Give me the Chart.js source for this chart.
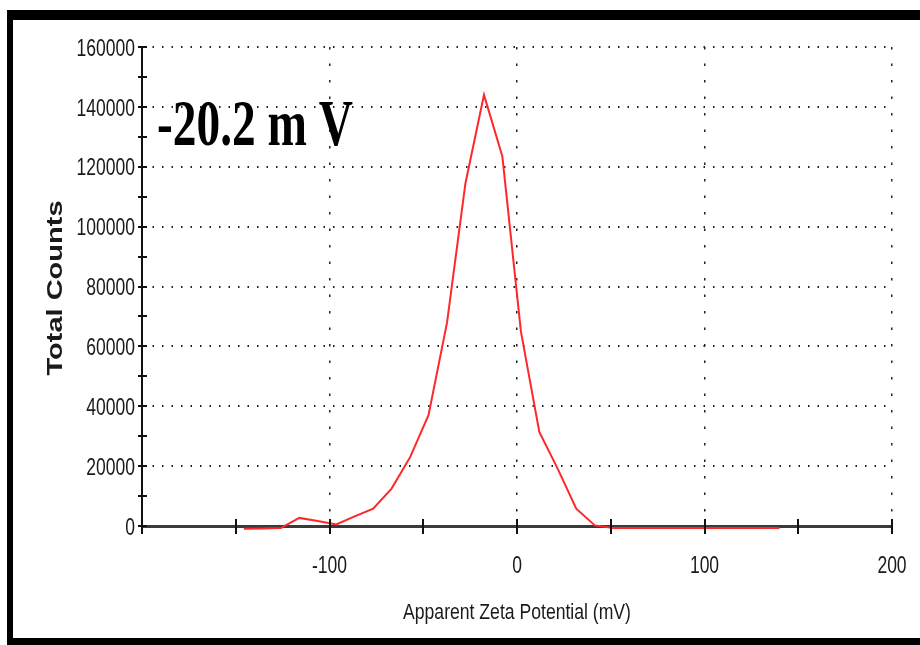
<!DOCTYPE html>
<html>
<head>
<meta charset="utf-8">
<script src="https://cdn.jsdelivr.net/npm/chart.js@4.4.1/dist/chart.umd.min.js"></script>
<style>
  html, body { margin: 0; padding: 0; background: #fff; }
  #wrap { width: 920px; height: 645px; position: relative; }
</style>
</head>
<body>
<div id="wrap"><canvas id="zetaChart" width="920" height="645"></canvas></div>
<script>
// Zeta potential distribution
const zetaMv = [-145.7, -135.8, -126.0, -116.1, -106.3, -96.4, -86.6, -76.7, -66.9, -57.0,
                -47.2, -37.3, -27.5, -17.6, -7.8, 2.1, 11.9, 21.8, 31.6, 41.5,
                51.3, 61.2, 71.0, 80.9, 90.7, 100.6, 110.4, 120.3, 130.1, 140.0];
const totalCounts = [-900, -800, -700, 2700, 1700, 500, 3200, 5800, 12500, 23000,
                     37000, 68000, 114500, 144000, 123400, 64900, 31400, 19000, 5800, 200,
                     -700, -700, -700, -700, -700, -700, -700, -700, -700, -700];
const xTickMarks = [-200, -150, -100, -50, 0, 50, 100, 150, 200];
const yTickMarks = [0, 10000, 20000, 30000, 40000, 50000, 60000, 70000, 80000,
                    90000, 100000, 110000, 120000, 130000, 140000, 150000, 160000];
const xTickLabels = [-100, 0, 100, 200];
const yTickLabels = [0, 20000, 40000, 60000, 80000, 100000, 120000, 140000, 160000];
const peakLabel = '-20.2 m V';
const xTitle = 'Apparent Zeta Potential (mV)';
const yTitle = 'Total Counts';

const sansFont = "'Liberation Sans', Arial, sans-serif";

// draws text squeezed sideways (the source picture is narrowed)
function squeezedText(ctx, text, x, y, sx, align, baseline) {
    ctx.save();
    ctx.translate(x, y);
    ctx.scale(sx, 1);
    ctx.textAlign = align;
    ctx.textBaseline = baseline;
    ctx.fillText(text, 0, 0);
    ctx.restore();
}

// tick marks crossing the axes, labels, titles and black frame
const extrasPlugin = {
    id: 'extras',
    afterDraw(chart) {
        const ctx = chart.ctx;
        const xs = chart.scales.x, ys = chart.scales.y;
        const y0 = ys.getPixelForValue(0);
        const xLeft = xs.getPixelForValue(-200);
        ctx.save();
        ctx.strokeStyle = '#111';
        ctx.lineWidth = 2;
        xTickMarks.forEach(v => {
            const px = Math.round(xs.getPixelForValue(v));
            ctx.beginPath();
            ctx.moveTo(px, y0 - 7);
            ctx.lineTo(px, y0 + 8);
            ctx.stroke();
        });
        yTickMarks.forEach(v => {
            const py = Math.round(ys.getPixelForValue(v));
            ctx.beginPath();
            ctx.moveTo(xLeft - 4, py);
            ctx.lineTo(xLeft + 5, py);
            ctx.stroke();
        });

        // tick labels
        ctx.fillStyle = '#1a1a1a';
        ctx.font = '24px ' + sansFont;
        yTickLabels.forEach(v => {
            squeezedText(ctx, String(v), xLeft - 7, ys.getPixelForValue(v) + 2, 0.73, 'right', 'middle');
        });
        xTickLabels.forEach(v => {
            squeezedText(ctx, String(v), xs.getPixelForValue(v), y0 + 40, 0.73, 'center', 'middle');
        });
        // x title
        ctx.font = '22px ' + sansFont;
        squeezedText(ctx, xTitle, (xs.left + xs.right) / 2, 613, 0.8, 'center', 'middle');

        // y title, squeezed sideways like the source
        ctx.save();
        ctx.translate(56, 288);
        ctx.rotate(-Math.PI / 2);
        ctx.scale(1, 0.75);
        ctx.font = "bold 29px " + sansFont;
        ctx.textAlign = 'center';
        ctx.textBaseline = 'middle';
        ctx.fillText(yTitle, 0, 0);
        ctx.restore();
        ctx.restore();

        // big value label
        ctx.save();
        ctx.fillStyle = '#000';
        ctx.font = "bold 66px 'Liberation Serif', 'Times New Roman', serif";
        const w = ctx.measureText(peakLabel).width;
        ctx.translate(157, 145);
        ctx.scale(196 / w, 1);
        ctx.textBaseline = 'alphabetic';
        ctx.fillText(peakLabel, 0, 0);
        ctx.restore();

        // frame
        ctx.save();
        ctx.fillStyle = '#000';
        ctx.fillRect(7, 10, 913, 10);
        ctx.fillRect(7, 10, 6, 635);
        ctx.fillRect(7, 638, 913, 7);
        ctx.restore();
    }
};

const ctx = document.getElementById('zetaChart').getContext('2d');
const zetaChart = new Chart(ctx, {
    type: 'line',
    data: {
        datasets: [{
            label: 'Total Counts',
            data: zetaMv.map((x, i) => ({ x: x, y: totalCounts[i] })),
            borderColor: '#ff2828',
            borderWidth: 2,
            pointRadius: 0,
            tension: 0,
            fill: false,
            clip: false
        }]
    },
    options: {
        responsive: false,
        animation: false,
        layout: { padding: { left: 0, right: 28, top: 47, bottom: 0 } },
        plugins: {
            legend: { display: false },
            tooltip: { enabled: false }
        },
        scales: {
            x: {
                type: 'linear',
                min: -200,
                max: 200,
                afterFit: s => { s.height = 119; },
                border: { display: true, color: '#3a3a3a', width: 3, dash: [2.5, 14] },
                grid: {
                    drawTicks: false,
                    color: c => (c.tick && c.tick.value !== -200) ? '#222' : 'rgba(0,0,0,0)',
                    lineWidth: 1.5
                },
                ticks: { display: false, stepSize: 100 }
            },
            y: {
                min: 0,
                max: 160000,
                afterFit: s => { s.width = 142; },
                border: { display: true, color: '#111', width: 2, dash: [1.5, 8] },
                grid: {
                    drawTicks: false,
                    color: c => (c.tick && c.tick.value !== 0) ? '#222' : 'rgba(0,0,0,0)',
                    lineWidth: 2
                },
                ticks: { display: false, stepSize: 20000 }
            }
        }
    },
    plugins: [extrasPlugin]
});
</script>
</body>
</html>
